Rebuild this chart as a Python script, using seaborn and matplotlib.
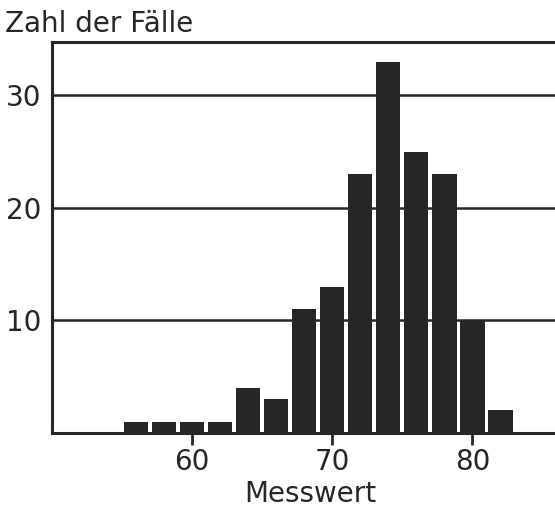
import matplotlib as mpl
mpl.use('Agg')

import seaborn as sns
import pandas as pd
import matplotlib.pyplot as plt

# histogram: bin centres and counts
messwert = [56, 58, 60, 62, 64, 66, 68, 70, 72, 74, 76, 78, 80, 82]
faelle = [1, 1, 1, 1, 4, 3, 11, 13, 23, 33, 25, 23, 10, 2]
x_ticks = [60, 70, 80]
y_ticks = [10, 20, 30]

df = pd.DataFrame({"Messwert": messwert, "Faelle": faelle})

sns.set_style("white")
plt.rcParams['font.family'] = ['DejaVu Sans']
ink = "#262626"

fig = plt.figure(figsize=(5.55, 5.09), dpi=100)
ax = fig.add_axes([52 / 555, 1 - 433 / 509, 1 - 52 / 555, (433 - 42) / 509])

sns.barplot(data=df, x="Messwert", y="Faelle", native_scale=True, width=0.87,
            color=ink, saturation=1, edgecolor=ink, linewidth=0, ax=ax)

for v in y_ticks:
    ax.axhline(v, color=ink, lw=1.8, zorder=0)

ax.set_xlim(50, 85.9)
ax.set_ylim(0, 34.75)
ax.set_xticks(x_ticks)
ax.set_yticks(y_ticks)
ax.tick_params(axis='x', direction='out', length=8.5, width=2, color=ink,
               labelsize=20, labelcolor=ink, pad=2, bottom=True)
ax.tick_params(axis='y', length=0, labelsize=20, labelcolor=ink, pad=8)
ax.set_xlabel("")
ax.set_ylabel("")

for side in ['left', 'bottom', 'top']:
    ax.spines[side].set_visible(True)
    ax.spines[side].set_color(ink)
    ax.spines[side].set_linewidth(2.2)
ax.spines['right'].set_visible(False)

fig.text(5 / 555, 1 - 32 / 509, "Zahl der Fälle", fontsize=20, color=ink,
         ha='left', va='baseline')
fig.text(310 / 555, 1 - 502 / 509, "Messwert", fontsize=20, color=ink,
         ha='center', va='baseline')

fig.savefig("out.png", dpi=100, facecolor='white')
